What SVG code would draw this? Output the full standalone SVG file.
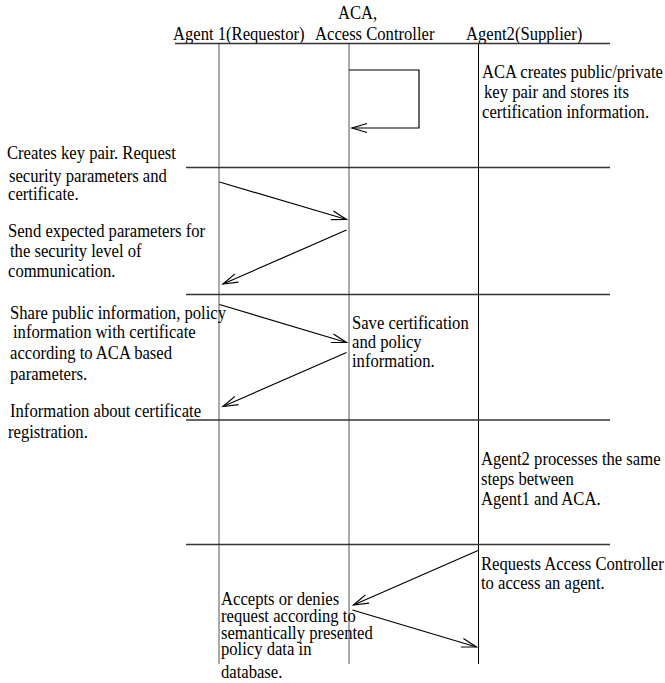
<svg xmlns="http://www.w3.org/2000/svg" width="665" height="683" viewBox="0 0 665 683">
<style>
.t{font-family:"Liberation Serif","Times New Roman",serif;font-size:19px;fill:#000}
.life{stroke:#555;stroke-width:1}
.life2{stroke:#000;stroke-width:1}
.sep{stroke:#333;stroke-width:1.3}
.msg{stroke:#000;stroke-width:1.2;fill:none;marker-end:url(#ah)}
</style>
<defs>
<marker id="ah" markerWidth="20" markerHeight="12" viewBox="-17 -6 20 12" refX="0" refY="0" orient="auto" markerUnits="userSpaceOnUse">
<path d="M-15,-4.5 L0,0 L-15,4.5" fill="none" stroke="#000" stroke-width="1.2"/>
</marker>
</defs>
<rect width="665" height="683" fill="#fff"/>

<g id="agent1">
<line class="life" x1="219" y1="44" x2="219" y2="664"/>
<text class="t" transform="translate(173,40) scale(0.875,1)">Agent 1(Requestor)</text>
</g>
<g id="aca">
<line class="life" x1="349" y1="44" x2="349" y2="664"/>
<text class="t" transform="translate(338,19) scale(0.875,1)">ACA,</text>
<text class="t" transform="translate(315,40) scale(0.875,1)">Access Controller</text>
</g>
<g id="agent2">
<line class="life2" x1="478.5" y1="44" x2="478.5" y2="664"/>
<text class="t" transform="translate(466,40) scale(0.875,1)">Agent2(Supplier)</text>
</g>

<g id="separators">
<line class="sep" x1="175" y1="43.5" x2="610" y2="43.5"/>
<line class="sep" x1="186" y1="167.5" x2="610" y2="167.5"/>
<line class="sep" x1="186" y1="294.5" x2="610" y2="294.5"/>
<line class="sep" x1="186" y1="420" x2="610" y2="420"/>
<line class="sep" x1="186" y1="544.5" x2="610" y2="544.5"/>
</g>

<g id="connectors">
<polyline class="msg" points="349,70 419,70 419,128 352,128"/>
<line class="msg" x1="219.5" y1="182" x2="346.5" y2="219.5"/>
<line class="msg" x1="346.5" y1="230" x2="223" y2="284"/>
<line class="msg" x1="219.5" y1="304.5" x2="346.5" y2="342.5"/>
<line class="msg" x1="346.5" y1="352.5" x2="223" y2="406.5"/>
<line class="msg" x1="478" y1="550.5" x2="353.5" y2="605"/>
<line class="msg" x1="352.5" y1="610" x2="476.5" y2="647"/>
</g>

<g id="note-aca-keys">
<text class="t" transform="translate(482,78) scale(0.875,1)">ACA creates public/private</text>
<text class="t" transform="translate(484,98) scale(0.875,1)">key pair and stores its</text>
<text class="t" transform="translate(482,118) scale(0.875,1)">certification information.</text>
</g>
<g id="note-request">
<text class="t" transform="translate(7,159) scale(0.875,1)">Creates key pair. Request</text>
<text class="t" transform="translate(9,182) scale(0.875,1)">security parameters and</text>
<text class="t" transform="translate(8,200) scale(0.875,1)">certificate.</text>
</g>
<g id="note-expected">
<text class="t" transform="translate(8,237) scale(0.875,1)">Send expected parameters for</text>
<text class="t" transform="translate(10,257) scale(0.875,1)">the security level of</text>
<text class="t" transform="translate(8,277) scale(0.875,1)">communication.</text>
</g>
<g id="note-share">
<text class="t" transform="translate(10,319) scale(0.875,1)">Share public information, policy</text>
<text class="t" transform="translate(13,338) scale(0.875,1)">information with certificate</text>
<text class="t" transform="translate(10,359) scale(0.875,1)">according to ACA based</text>
<text class="t" transform="translate(10,380) scale(0.875,1)">parameters.</text>
</g>
<g id="note-registration">
<text class="t" transform="translate(10,417) scale(0.875,1)">Information about certificate</text>
<text class="t" transform="translate(8,438) scale(0.875,1)">registration.</text>
</g>
<g id="note-save">
<text class="t" transform="translate(352,329) scale(0.875,1)">Save certification</text>
<text class="t" transform="translate(352,348) scale(0.875,1)">and policy</text>
<text class="t" transform="translate(352,367) scale(0.875,1)">information.</text>
</g>
<g id="note-agent2">
<text class="t" transform="translate(481,465) scale(0.875,1)">Agent2 processes the same</text>
<text class="t" transform="translate(481,485) scale(0.875,1)">steps between</text>
<text class="t" transform="translate(481,505) scale(0.875,1)">Agent1 and ACA.</text>
</g>
<g id="note-access">
<text class="t" transform="translate(481,570) scale(0.875,1)">Requests Access Controller</text>
<text class="t" transform="translate(481,589) scale(0.875,1)">to access an agent.</text>
</g>
<g id="note-decision">
<text class="t" transform="translate(221,605) scale(0.875,1)">Accepts or denies</text>
<text class="t" transform="translate(221,622) scale(0.875,1)">request according to</text>
<text class="t" transform="translate(221,639) scale(0.875,1)">semantically presented</text>
<text class="t" transform="translate(221,655) scale(0.875,1)">policy data in</text>
<text class="t" transform="translate(221,678) scale(0.875,1)">database.</text>
</g>
</svg>
